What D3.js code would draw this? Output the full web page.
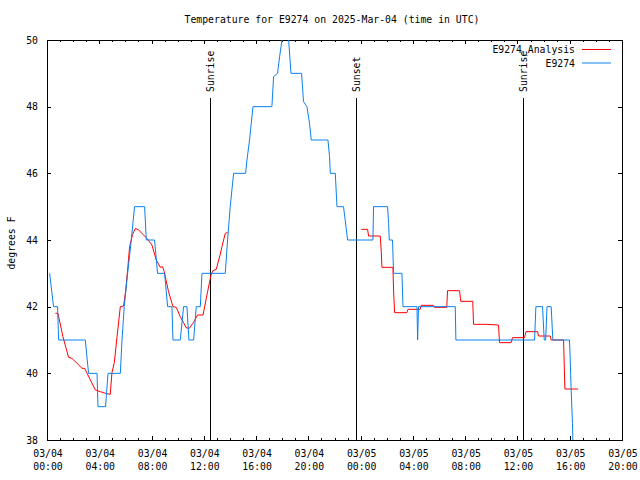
<!DOCTYPE html>
<html>
<head>
<meta charset="utf-8">
<script src="https://cdn.jsdelivr.net/npm/d3@7"></script>
<style>
  html, body { margin: 0; padding: 0; background: #fff; }
  svg { display: block; }
  text { font-family: "DejaVu Sans Mono", "Liberation Mono", monospace; font-size: 9.8px; fill: #000; }
</style>
</head>
<body>
<div id="chart"></div>
<script>
// ---- data (hours since 2025-03-04 00:00 UTC, degrees F) ----
const title = "Temperature for E9274 on 2025-Mar-04 (time in UTC)";
const yLabel = "degrees F";
const seriesNames = ["E9274_Analysis", "E9274"];
const seriesColors = ["#ff0000", "#0a80f0"];

const obsHours = [0.20, 0.50, 0.81, 0.89, 2.93, 3.18, 3.83, 3.90, 4.48, 4.67, 5.61, 5.74, 5.91, 6.17, 6.45, 6.70,
  7.47, 7.60, 8.23, 8.46, 9.00, 9.23, 9.56, 9.64, 10.20, 10.45, 10.71, 10.86, 11.22, 11.42, 11.73, 11.86,
  13.64, 13.82, 14.02, 14.28, 15.20, 15.30, 15.50, 15.76, 17.21, 17.34, 17.64, 17.80, 17.98, 18.06, 18.40, 18.49,
  18.67, 19.48, 19.63, 19.89, 20.09, 20.22, 21.50, 21.62, 21.68, 22.06, 22.19, 22.69, 22.88, 23.00,
  24.94, 24.99, 26.06, 26.14, 26.19, 26.44, 26.52, 27.16, 27.24, 28.31, 28.36, 28.43, 31.24, 31.29,
  37.31, 37.41, 37.92, 38.05, 38.16, 38.26, 38.58, 38.71, 39.98, 40.03, 40.11, 40.21, 40.30];
const obsTemps = [43, 42, 42, 41, 41, 40, 40, 39, 39, 40, 40, 41, 42, 43, 44, 45,
  45, 44, 44, 43, 43, 42, 42, 41, 41, 42, 42, 41, 41, 42, 42, 43,
  43, 44, 45, 46, 46, 46.4, 47, 48, 48, 48.9, 49, 49.5, 50, 51, 51, 50,
  49, 49, 48.15, 48, 47.5, 47, 47, 46.5, 46, 46, 45, 45, 44.4, 44,
  44, 45, 45, 44.5, 44, 44, 43, 43, 42, 42, 41, 42, 42, 41,
  41, 42, 42, 41, 41, 42, 42, 41, 41, 40.5, 39.5, 38.5, 37];

const anaHours = [0.64, 0.84, 1.22, 1.65, 1.91, 2.68, 2.88, 3.70, 4.08, 4.46, 4.84, 4.97, 5.15, 5.36, 5.61, 5.86,
  6.01, 6.17, 6.32, 6.55, 6.76, 7.01, 7.65, 8.03, 8.36, 8.67, 8.84, 8.97, 9.30, 9.64, 9.89, 10.20,
  10.45, 10.64, 10.89, 11.22, 11.52, 11.94, 12.29, 12.55, 12.70, 12.95, 13.26, 13.39, 13.64, 13.82,
  18.0,
  24.05, 24.53, 24.61, 25.50, 25.58, 25.63, 26.47, 26.52, 26.60, 27.54, 27.62, 28.56, 28.63, 29.58, 29.65,
  30.59, 30.65, 31.57, 31.66, 32.58, 32.64, 33.59, 34.55, 34.63, 35.52, 35.62, 36.54, 36.65, 37.54, 37.61,
  38.51, 38.58, 39.53, 39.58, 39.63, 40.63];
const anaTemps = [41.8, 41.8, 41.1, 40.48, 40.45, 40.15, 40.15, 39.5, 39.45, 39.4, 39.37, 40.02, 40.32, 41.1, 42.0, 42.02,
  42.45, 43.1, 43.8, 44.17, 44.35, 44.3, 44.05, 43.85, 43.4, 43.18, 43.2, 43.05, 42.45, 42.0, 41.98, 41.7,
  41.52, 41.37, 41.35, 41.53, 41.75, 41.75, 42.45, 42.95, 43.08, 43.12, 43.58, 43.8, 44.2, 44.23,
  null,
  44.32, 44.32, 44.12, 44.12, 43.65, 43.18, 43.18, 42.5, 41.82, 41.82, 41.92, 41.92, 42.04, 42.04, 41.98,
  41.98, 42.48, 42.48, 42.16, 42.16, 41.47, 41.47, 41.45, 40.92, 40.92, 41.07, 41.07, 41.25, 41.25, 41.12,
  41.12, 41.0, 41.0, 40.25, 39.53, 39.53];

const sunEventNames = ["Sunrise", "Sunset", "Sunrise"];
const sunEventHours = [12.44, 23.64, 36.39];

const yTicks = [38, 40, 42, 44, 46, 48, 50];
const xStartHour = 0, xEndHour = 44;

// ---- drawing ----
(function () {
const W = 640, H = 480;
const pL = 47, pR = 622, pT = 40, pB = 440;
const t0 = Date.UTC(2025, 2, 4, 0, 0);
const toDate = h => new Date(t0 + h * 3600e3);

const svg = d3.select("#chart").append("svg").attr("width", W).attr("height", H);

const x = d3.scaleUtc().domain([toDate(xStartHour), toDate(xEndHour)]).range([pL, pR]);
const y = d3.scaleLinear().domain([38, 50]).range([pB, pT]);

svg.append("defs").append("clipPath").attr("id", "plotclip")
  .append("rect").attr("x", pL).attr("y", pT).attr("width", pR - pL).attr("height", pB - pT);

svg.append("text").attr("x", 332).attr("y", 23).attr("text-anchor", "middle").text(title);

svg.append("text").attr("transform", "translate(15,243) rotate(-90)").attr("text-anchor", "middle").text(yLabel);

const majorTicks = d3.range(xStartHour, xEndHour + 0.001, 4).map(toDate);
const minorTicks = d3.range(xStartHour, xEndHour + 0.001, 1).map(toDate);
const fmtDay = d3.utcFormat("%m/%d"), fmtTime = d3.utcFormat("%H:%M");

function styleAxis(g) {
  g.select(".domain").remove();
  g.selectAll("line").attr("stroke", "#000").attr("shape-rendering", "crispEdges");
}

svg.append("g").attr("transform", `translate(0,${pB})`)
  .call(d3.axisBottom(x).tickValues(minorTicks).tickSize(-2).tickFormat(""))
  .call(styleAxis);
svg.append("g").attr("transform", `translate(0,${pT})`)
  .call(d3.axisTop(x).tickValues(minorTicks).tickSize(-2).tickFormat(""))
  .call(styleAxis);
const xb = svg.append("g").attr("transform", `translate(0,${pB})`)
  .call(d3.axisBottom(x).tickValues(majorTicks).tickSize(-4).tickPadding(0).tickFormat(""))
  .call(styleAxis);
xb.selectAll(".tick text").remove();
xb.selectAll(".tick").each(function (d) {
  const t = d3.select(this).append("text").attr("text-anchor", "middle")
    .style("font-family", "DejaVu Sans Mono").style("font-size", "9.8px").attr("fill", "#000");
  t.append("tspan").attr("x", 0.5).attr("y", 17).text(fmtDay(d));
  t.append("tspan").attr("x", 0.5).attr("y", 30).text(fmtTime(d));
});
svg.append("g").attr("transform", `translate(0,${pT})`)
  .call(d3.axisTop(x).tickValues(majorTicks).tickSize(-4).tickFormat(""))
  .call(styleAxis);

const yl = svg.append("g").attr("transform", `translate(${pL},0)`)
  .call(d3.axisLeft(y).tickValues(yTicks).tickSize(-4).tickPadding(9).tickFormat(d3.format("d")))
  .call(styleAxis);
yl.selectAll("text").style("font-family", "DejaVu Sans Mono").style("font-size", "9.8px").attr("fill", "#000");
svg.append("g").attr("transform", `translate(${pR},0)`)
  .call(d3.axisRight(y).tickValues(yTicks).tickSize(-4).tickFormat(""))
  .call(styleAxis);

svg.append("rect").attr("x", pL).attr("y", pT).attr("width", pR - pL).attr("height", pB - pT)
  .attr("fill", "none").attr("stroke", "#000").attr("shape-rendering", "crispEdges");

sunEventHours.forEach((h, i) => {
  const sx = Math.round(x(toDate(h)));
  svg.append("line").attr("x1", sx).attr("x2", sx).attr("y1", 98).attr("y2", pB)
    .attr("stroke", "#000").attr("shape-rendering", "crispEdges");
  svg.append("text").attr("transform", `translate(${sx + 4},92) rotate(-90)`)
    .attr("text-anchor", "start").text(sunEventNames[i]);
});

const plot = svg.append("g").attr("clip-path", "url(#plotclip)");
const anaData = anaHours.map((h, i) => ({ t: toDate(h), v: anaTemps[i] }));
const obsData = obsHours.map((h, i) => ({ t: toDate(h), v: obsTemps[i] }));
const line = d3.line().defined(d => d.v !== null).x(d => x(d.t)).y(d => y(d.v));

plot.append("path").datum(anaData).attr("d", line).attr("fill", "none")
  .attr("stroke", seriesColors[0]).attr("stroke-width", 1);
plot.append("path").datum(obsData).attr("d", line).attr("fill", "none")
  .attr("stroke", seriesColors[1]).attr("stroke-width", 1);

seriesNames.forEach((name, i) => {
  const ly = 50 + i * 13.5;
  svg.append("text").attr("x", 575).attr("y", ly).attr("dy", "0.35em").attr("text-anchor", "end").text(name);
  svg.append("line").attr("x1", 582).attr("x2", 611).attr("y1", ly - 0.5).attr("y2", ly - 0.5)
    .attr("stroke", seriesColors[i]).attr("stroke-width", 1);
});
})();
</script>
</body>
</html>
